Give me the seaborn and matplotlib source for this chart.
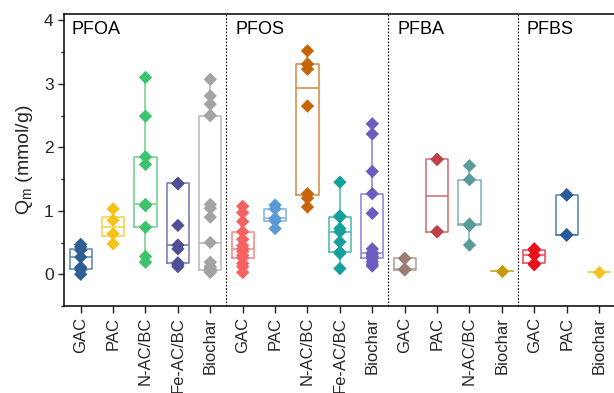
import numpy as np
import pandas as pd
import matplotlib
matplotlib.use("Agg")
import matplotlib.pyplot as plt
import seaborn as sns
from matplotlib.ticker import MultipleLocator
from matplotlib.colors import to_rgb

# ---------------- data (Qm, mmol/g) ----------------
groups = ["PFOA", "PFOS", "PFBA", "PFBS"]
pfoa_materials = ["GAC", "PAC", "N-AC/BC", "Fe-AC/BC", "Biochar"]
pfos_materials = ["GAC", "PAC", "N-AC/BC", "Fe-AC/BC", "Biochar"]
pfba_materials = ["GAC", "PAC", "N-AC/BC", "Biochar"]
pfbs_materials = ["GAC", "PAC", "Biochar"]

pfoa_gac = [0.00, 0.07, 0.11, 0.27, 0.38, 0.43, 0.47]
pfoa_pac = [0.48, 0.64, 0.85, 1.03]
pfoa_nacbc = [0.19, 0.28, 0.74, 1.08, 1.10, 1.73, 1.85, 2.49, 3.10]
pfoa_feacbc = [0.12, 0.15, 0.18, 0.40, 0.46, 0.77, 1.43, 1.43, 1.43]
pfoa_biochar = [0.03, 0.04, 0.05, 0.06, 0.07, 0.10, 0.12, 0.19, 0.50,
                0.90, 1.04, 1.10, 2.50, 2.50, 2.68, 2.81, 3.07]

pfos_gac = [0.03, 0.12, 0.17, 0.26, 0.30, 0.36, 0.40, 0.45, 0.55, 0.67,
            0.83, 0.97, 1.07]
pfos_pac = [0.72, 0.84, 0.88, 1.03, 1.09]
pfos_nacbc = [1.06, 1.20, 1.27, 2.65, 3.23, 3.31, 3.31, 3.52]
pfos_feacbc = [0.09, 0.33, 0.35, 0.51, 0.67, 0.72, 0.90, 0.92, 1.45]
pfos_biochar = [0.13, 0.16, 0.20, 0.25, 0.28, 0.31, 0.34, 0.40, 0.96,
                1.27, 1.62, 2.21, 2.37]

pfba_gac = [0.07, 0.075, 0.08, 0.25, 0.25]
pfba_pac = [0.67, 0.67, 1.81, 1.81]
pfba_nacbc = [0.46, 0.77, 0.79, 1.49, 1.71]
pfba_biochar = [0.05]

pfbs_gac = [0.15, 0.17, 0.30, 0.38, 0.40]
pfbs_pac = [0.62, 0.62, 0.62, 1.25, 1.25]
pfbs_biochar = [0.03]

# ---------------- colours ----------------
pfoa_colors = ["#2d5f94", "#f5c21a", "#3cc46c", "#4e4f94", "#a3a3a3"]
pfos_colors = ["#f66262", "#5b9bd5", "#c8650a", "#15a09c", "#6b5cc0"]
pfba_colors = ["#9a7e74", "#c0404a", "#5b9a9a", "#c89a10"]
pfbs_colors = ["#e8101a", "#2a5a9e", "#f6c324"]

# ---------------- assemble ----------------
blocks = [
    ("PFOA", pfoa_materials, [pfoa_gac, pfoa_pac, pfoa_nacbc, pfoa_feacbc, pfoa_biochar], pfoa_colors),
    ("PFOS", pfos_materials, [pfos_gac, pfos_pac, pfos_nacbc, pfos_feacbc, pfos_biochar], pfos_colors),
    ("PFBA", pfba_materials, [pfba_gac, pfba_pac, pfba_nacbc, pfba_biochar], pfba_colors),
    ("PFBS", pfbs_materials, [pfbs_gac, pfbs_pac, pfbs_biochar], pfbs_colors),
]

rows, order, tick_labels, pal_pts, pal_box = [], [], [], {}, {}
group_start = []
for g, mats, vals, cols in blocks:
    group_start.append(len(order))
    for m, v, c in zip(mats, vals, cols):
        key = f"{g}|{m}"
        order.append(key)
        tick_labels.append(m)
        pal_pts[key] = c
        rgb = np.array(to_rgb(c))
        pal_box[key] = tuple(rgb * 0.78 + 0.22)
        for q in v:
            rows.append({"key": key, "Q": q})
df = pd.DataFrame(rows)

# ---------------- plot ----------------
sns.set_style("ticks")
plt.rcParams["font.family"] = ["Liberation Sans", "DejaVu Sans"]
plt.rcParams["mathtext.fontset"] = "custom"
plt.rcParams["mathtext.rm"] = "Liberation Sans"

fig = plt.figure(figsize=(6.14, 3.93), dpi=100)
ax = fig.add_axes([64 / 614, 87 / 393, 550 / 614, 292 / 393])

sns.boxplot(data=df, x="key", y="Q", hue="key", order=order, hue_order=order,
            palette=pal_box, fill=False, whis=(0, 100), showfliers=False,
            showcaps=False, width=0.68, linewidth=1.1, dodge=False,
            legend=False, ax=ax)
sns.stripplot(data=df, x="key", y="Q", hue="key", order=order, hue_order=order,
              palette=pal_pts, jitter=False, marker="D", size=6.8,
              linewidth=0, dodge=False, legend=False, ax=ax, zorder=5)

# group dividers and labels
for s in group_start[1:]:
    ax.axvline(s - 0.5, color="black", lw=0.8, ls=(0, (1.5, 1.5)), zorder=1)
for s, (g, *_rest) in zip(group_start, blocks):
    xpos = -0.27 if s == 0 else s - 0.5 + 0.27
    ax.text(xpos, 3.85, g, fontsize=13, ha="left", va="center", color="black")

ax.set_xlim(-0.515, 16.46)
ax.set_ylim(-0.5, 4.1)
ax.set_xticks(range(len(order)))
ax.set_xticklabels(tick_labels, rotation=90, fontsize=12)
ax.yaxis.set_major_locator(MultipleLocator(1))
ax.yaxis.set_minor_locator(MultipleLocator(0.5))
ax.tick_params(axis="y", which="major", labelsize=12.5, length=4, width=1, direction="out")
ax.tick_params(axis="y", which="minor", length=2.5, width=1, direction="out")
ax.tick_params(axis="x", length=5, width=1, direction="out", pad=3)
ax.set_xlabel("")
ax.set_ylabel(r"$\mathregular{Q_m}$ (mmol/g)", fontsize=14, labelpad=6)

for side in ["left", "bottom", "top"]:
    ax.spines[side].set_visible(True)
    ax.spines[side].set_linewidth(1.1)
    ax.spines[side].set_color("black")
ax.spines["right"].set_visible(False)

fig.savefig("out.png", dpi=100)
